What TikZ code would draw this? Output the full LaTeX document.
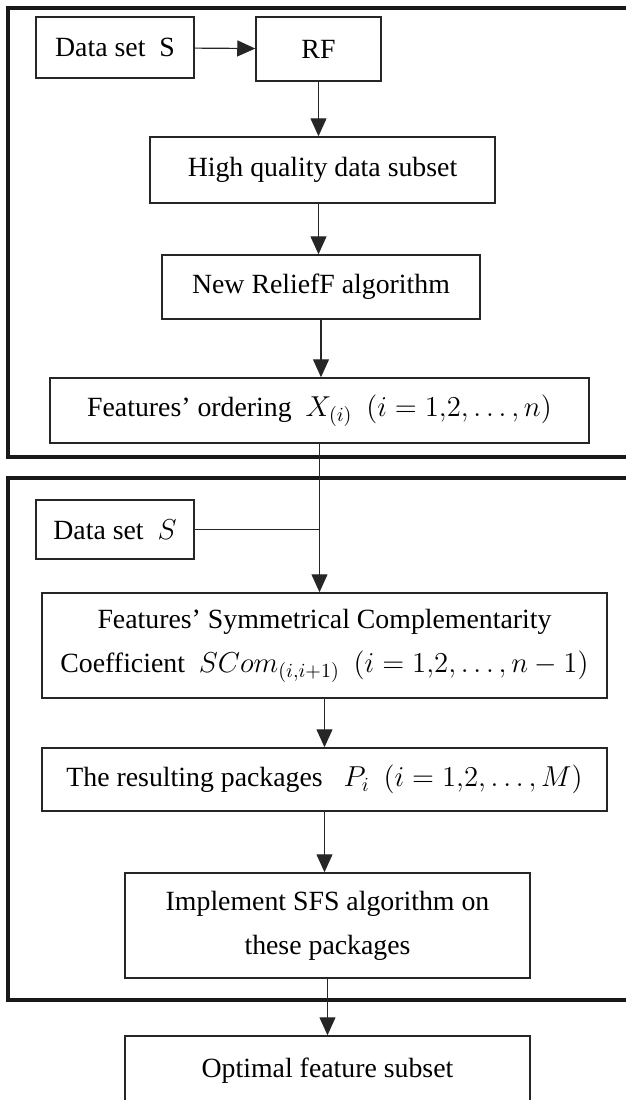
\documentclass[tikz,border=0pt]{standalone}
\usepackage{fontspec}
\setmainfont{Liberation Serif}
\usetikzlibrary{arrows.meta,positioning}
\tikzset{
  stage/.style={rectangle,draw=black!85,line width=0.75pt,fill=white,align=center,inner sep=2pt,font=\fontsize{13.9pt}{22pt}\selectfont},
  frame/.style={draw=black!90,line width=2pt},
  arrow/.style={-{Triangle[length=9pt,width=8pt]},line width=0.6pt,black!85},
  joint/.style={line width=0.6pt,black!85}
}

\begin{document}
\begin{tikzpicture}[x=0.5pt,y=-0.5pt]
    \useasboundingbox (0,0) rectangle (626,1100);
    \clip (0,0) rectangle (626,1100);
    % the two phases
    \draw[frame] (8,8) rectangle (660,457);
    \draw[frame] (8,478) rectangle (660,1000);
    % phase one
    \node[stage,minimum width=79pt,minimum height=30.5pt] (ds1) at (115,47.5) {Data set\ \ S};
    \node[stage,minimum width=62.5pt,minimum height=32pt] (rf) at (318.5,49) {RF};
    \node[stage,minimum width=172.5pt,minimum height=33pt] (hq) at (322.5,170) {High quality data subset};
    \node[stage,minimum width=159pt,minimum height=32pt] (nr) at (321,287) {New ReliefF algorithm};
    \node[stage,minimum width=269.5pt,minimum height=32.5pt] (fo) at (319.5,410.5) {Features’ ordering\ \ $X_{(i)}$\ \ $(i = 1{,}2, \ldots, n)$};
    % phase two
    \node[stage,minimum width=79pt,minimum height=29.5pt] (ds2) at (115,529.5) {Data set\ \ $S$};
    \node[stage,minimum width=282.5pt,minimum height=52.5pt] (fs) at (324.5,645.5) {Features’ Symmetrical Complementarity\\Coefficient\ \ $SCom_{(i,i+1)}$\ \ $(i = 1{,}2, \ldots, n-1)$};
    \node[stage,minimum width=282.5pt,minimum height=31.5pt] (rp) at (324.5,779.5) {The resulting packages\ \ \ $P_i$\ \ $(i = 1{,}2, \ldots, M)$};
    \node[stage,minimum width=202.5pt,minimum height=52.5pt] (im) at (327.5,925.5) {Implement SFS algorithm on\\these packages};
    \node[stage,minimum width=202.5pt,minimum height=35pt] (op) at (327.5,1071) {Optimal feature subset};
    % connectors
    \draw[arrow] (ds1) -- (rf);
    \draw[arrow] (rf.south) -- (rf.south |- hq.north);
    \draw[arrow] (hq.south -| rf.south) -- (rf.south |- nr.north);
    \draw[arrow] (nr.south) -- (nr.south |- fo.north);
    \draw[arrow] (fo.south) -- (fo.south |- fs.north);
    \draw[joint] (ds2.east) -- (ds2.east -| fo.south);
    \draw[arrow] (fs.south) -- (fs.south |- rp.north);
    \draw[arrow] (rp.south) -- (rp.south |- im.north);
    \draw[arrow] (im.south) -- (im.south |- op.north);
  \end{tikzpicture}
\end{document}
